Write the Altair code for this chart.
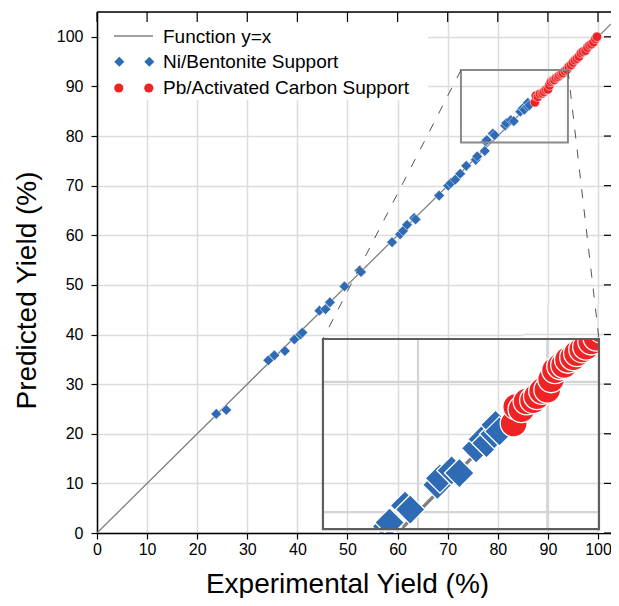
import altair as alt
import pandas as pd

# ---------------- data ----------------
ni_exp = [23.8, 25.8, 34.2, 35.4, 37.5, 39.4, 40.6, 41.0, 44.4, 45.6, 46.5, 49.4,
          52.4, 52.7, 58.9, 60.5, 61.1, 61.9, 63.3, 63.6, 68.3, 70.1, 70.6, 71.5,
          72.5, 73.7, 75.6, 75.9, 77.4, 77.6, 77.8, 79.0, 79.4, 81.5, 81.7, 82.6,
          83.2, 84.5, 85.0, 85.3, 85.9, 86.0, 86.3]
ni_pred = [24.0, 24.8, 34.8, 35.8, 36.7, 39.0, 40.0, 40.4, 44.8, 45.1, 46.5, 49.7,
           52.9, 52.6, 58.6, 60.2, 60.9, 62.1, 63.5, 63.2, 68.0, 70.0, 70.5, 71.2,
           72.4, 74.0, 75.2, 75.9, 77.0, 78.9, 79.2, 80.5, 80.2, 82.1, 82.6, 83.2,
           83.0, 84.9, 85.6, 85.3, 86.0, 86.7, 86.2]
pb_exp = [87.4, 87.6, 88.0, 88.4, 88.9, 89.2, 89.6, 90.0, 90.3, 90.6, 91.0, 91.3,
          91.6, 92.0, 92.3, 92.7, 93.0, 93.4, 93.8, 94.2, 94.6, 95.0, 95.4, 95.8,
          96.2, 96.6, 97.0, 97.5, 97.9, 98.3, 98.7, 99.1, 99.5, 99.8]
pb_pred = [86.8, 88.1, 87.9, 88.5, 88.6, 88.9, 89.3, 89.4, 90.2, 90.9, 91.2, 91.3,
           91.7, 91.9, 92.2, 92.5, 92.7, 93.1, 93.4, 94.0, 94.3, 94.8, 95.3, 95.6,
           96.0, 96.7, 97.0, 97.2, 97.8, 98.3, 98.5, 98.9, 99.6, 100.0]
tick_values = [0, 10, 20, 30, 40, 50, 60, 70, 80, 90, 100]
legend_labels = ["Function y=x", "Ni/Bentonite Support", "Pb/Activated Carbon Support"]
x_title = "Experimental Yield (%)"
y_title = "Predicted Yield (%)"

# ---------------- layout / style ----------------
X_MAX, Y_MAX = 102.6, 105.0
W, H = 514, 521
SRC = (72.65, 94.0, 78.7, 93.3)     # magnified region x0,x1,y0,y1
DST = (45.1, 100.2, 0.8, 39.1)      # inset box (main data units)
BLUE, RED = "#2F6BB5", "#EE2326"
LINE_GRAY, GRID = "#808080", "#DCDCDC"
FONT = "Liberation Sans"
KX = (DST[1] - DST[0]) / (SRC[1] - SRC[0])
KY = (DST[3] - DST[2]) / (SRC[3] - SRC[2])

xs = alt.Scale(domain=[0, X_MAX], nice=False, zero=False)
ys = alt.Scale(domain=[0, Y_MAX], nice=False, zero=False)

x_axis = alt.Axis(values=tick_values, title=x_title, grid=True, gridColor=GRID, gridWidth=1.5,
                  domainColor="black", domainWidth=1.5, tickColor="black", tickWidth=1.2,
                  tickSize=6, labelFont=FONT, labelFontSize=16, labelColor="black",
                  labelPadding=2, labelFlush=False, labelOverlap=False,
                  titleFont=FONT, titleFontSize=28, titleFontWeight="normal", titleColor="black",
                  titleX=250, titleY=51, titleBaseline="middle", titleAlign="center")
y_axis = alt.Axis(values=tick_values, title=y_title, grid=True, gridColor=GRID, gridWidth=1.5,
                  domainColor="black", domainWidth=1.5, tickColor="black", tickWidth=1.2,
                  tickSize=6, labelFont=FONT, labelFontSize=16, labelColor="black",
                  labelPadding=8, labelFlush=False, labelOverlap=False,
                  titleFont=FONT, titleFontSize=28, titleFontWeight="normal", titleColor="black",
                  titleX=-70, titleY=278, titleAngle=270, titleBaseline="middle", titleAlign="center")


def tx(v):
    return DST[0] + (v - SRC[0]) * KX


def ty(v):
    return DST[2] + (v - SRC[2]) * KY


def XE(f):
    return alt.X(f, type="quantitative", scale=xs, axis=x_axis)


def YE(f):
    return alt.Y(f, type="quantitative", scale=ys, axis=y_axis)


ni = pd.DataFrame({"x": ni_exp, "y": ni_pred})
pb = pd.DataFrame({"x": pb_exp, "y": pb_pred})
one = pd.DataFrame({"k": [0]})

layers = []
# main y=x line
line_df = pd.DataFrame({"x": [0, X_MAX], "y": [0, X_MAX]})
layers.append(alt.Chart(line_df).mark_line(color=LINE_GRAY, strokeWidth=1.3, clip=True)
              .encode(x=XE("x"), y=YE("y")))
layers.append(alt.Chart(ni).mark_point(shape="diamond", filled=True, color=BLUE, stroke="white",
                                       strokeWidth=0.5, size=115, opacity=1)
              .encode(x=XE("x"), y=YE("y")))
layers.append(alt.Chart(pb).mark_point(shape="circle", filled=True, color=RED, stroke="white",
                                       strokeWidth=0.5, size=90, opacity=1)
              .encode(x=XE("x"), y=YE("y")))

# ---------------- inset ----------------
ig_v = pd.DataFrame({"x": [tx(v) for v in tick_values if SRC[0] < v < SRC[1]]})
ig_v["y0"], ig_v["y1"] = DST[2], DST[3]
ig_h = pd.DataFrame({"y": [ty(v) for v in tick_values if SRC[2] < v < SRC[3]]})
ig_h["x0"], ig_h["x1"] = DST[0], DST[1]
layers.append(alt.Chart(ig_v).mark_rule(color="#D4D4D4", strokeWidth=2.2)
              .encode(x=XE("x"), y=YE("y0"), y2="y1"))
layers.append(alt.Chart(ig_h).mark_rule(color="#D4D4D4", strokeWidth=2.2)
              .encode(y=YE("y"), x=XE("x0"), x2="x1"))
lo, hi = max(SRC[0], SRC[2]), min(SRC[1], SRC[3])
iline = pd.DataFrame({"x": [tx(lo), tx(hi)], "y": [ty(lo), ty(hi)]})
layers.append(alt.Chart(iline).mark_line(color=LINE_GRAY, strokeWidth=3.4, clip=True)
              .encode(x=XE("x"), y=YE("y")))


def inset_pts(df):
    m = 1.5
    d = df[(df.x > SRC[0] - m) & (df.x < SRC[1] + m) & (df.y > SRC[2] - m) & (df.y < SRC[3] + m)].copy()
    d["x"] = d["x"].map(tx)
    d["y"] = d["y"].map(ty)
    return d


layers.append(alt.Chart(inset_pts(ni)).mark_point(shape="diamond", filled=True, color=BLUE,
                                                  stroke="white", strokeWidth=1.3,
                                                  size=880, opacity=1, clip=True)
              .encode(x=XE("x"), y=YE("y")))
layers.append(alt.Chart(inset_pts(pb)).mark_point(shape="circle", filled=True, color=RED,
                                                  stroke="white", strokeWidth=1.3,
                                                  size=720, opacity=1, clip=True)
              .encode(x=XE("x"), y=YE("y")))

# masks that clip the inset markers to the inset box, then restore the grid there
masks = [(DST[1], X_MAX, 0.0, 46.0), (85.0, X_MAX, DST[3], 46.0), (DST[0], DST[1], 0.16, DST[2])]
mdf = pd.DataFrame(masks, columns=["x0", "x1", "y0", "y1"])
layers.append(alt.Chart(mdf).mark_rect(color="white", opacity=1)
              .encode(x=XE("x0"), x2="x1", y=YE("y0"), y2="y1"))
gv, gh = [], []
for (a, b, c, d) in masks:
    for v in tick_values:
        if a < v < b:
            gv.append({"x": v, "y0": max(c, 0.16), "y1": d})
        if c < v < d:
            gh.append({"y": v, "x0": a, "x1": b})
layers.append(alt.Chart(pd.DataFrame(gv)).mark_rule(color=GRID, strokeWidth=1.5)
              .encode(x=XE("x"), y=YE("y0"), y2="y1"))
layers.append(alt.Chart(pd.DataFrame(gh)).mark_rule(color=GRID, strokeWidth=1.5)
              .encode(y=YE("y"), x=XE("x0"), x2="x1"))

# frames and connectors
boxes = pd.DataFrame([DST], columns=["x0", "x1", "y0", "y1"])
layers.append(alt.Chart(boxes).mark_rect(fillOpacity=0, stroke="#5E5E5E", strokeWidth=2.2)
              .encode(x=XE("x0"), x2="x1", y=YE("y0"), y2="y1"))
srcbox = pd.DataFrame([SRC], columns=["x0", "x1", "y0", "y1"])
layers.append(alt.Chart(srcbox).mark_rect(fillOpacity=0, stroke="#8A8A8A", strokeWidth=2)
              .encode(x=XE("x0"), x2="x1", y=YE("y0"), y2="y1"))
conn = pd.DataFrame({"x0": [SRC[0], SRC[1]], "y0": [SRC[3], SRC[3]],
                     "x1": [DST[0], DST[1]], "y1": [DST[3], DST[3]]})
layers.append(alt.Chart(conn).mark_rule(color="#555555", strokeWidth=1, strokeDash=[9, 11])
              .encode(x=XE("x0"), y=YE("y0"), x2="x1", y2="y1"))

# ---------------- legend (drawn in plot pixels) ----------------
layers.append(alt.Chart(one).mark_rect(color="white", opacity=1)
              .encode(x=alt.value(3), x2=alt.value(331), y=alt.value(2), y2=alt.value(88)))
layers.append(alt.Chart(one).mark_rule(color=LINE_GRAY, strokeWidth=1.3)
              .encode(x=alt.value(17), x2=alt.value(56), y=alt.value(24)))
for lx in (22.3, 52.3):
    layers.append(alt.Chart(one).mark_point(shape="diamond", filled=True, color=BLUE, size=100,
                                            opacity=1)
                  .encode(x=alt.value(lx), y=alt.value(49.7)))
    layers.append(alt.Chart(one).mark_point(shape="circle", filled=True, color=RED, size=85,
                                            opacity=1)
                  .encode(x=alt.value(lx - 0.5), y=alt.value(76.0)))
for lab, ly in zip(legend_labels, (24.7, 49.9, 76.0)):
    layers.append(alt.Chart(one).mark_text(text=lab, align="left", baseline="middle", font=FONT,
                                           fontSize=19, color="black")
                  .encode(x=alt.value(66), y=alt.value(ly)))

# ---------------- top spine and inward ticks on top / right ----------------
tdf = pd.DataFrame({"v": tick_values})
layers.append(alt.Chart(one).mark_rule(color="black", strokeWidth=1.5)
              .encode(x=alt.value(0), x2=alt.value(W), y=alt.value(0)))
layers.append(alt.Chart(tdf).mark_rule(color="black", strokeWidth=1.2)
              .encode(x=XE("v"), y=alt.value(0), y2=alt.value(10)))
layers.append(alt.Chart(tdf).mark_rule(color="black", strokeWidth=1.2)
              .encode(y=YE("v"), x=alt.value(W - 7), x2=alt.value(W)))

chart = (alt.layer(*layers)
         .properties(width=W, height=H, autosize=alt.AutoSizeParams(type="none"),
                     padding={"left": 89, "top": 4, "right": 0, "bottom": 65})
         .configure_view(stroke="transparent")
         .configure(background="white"))

chart.save("out.html", embed_options={"renderer": "svg", "actions": False})
